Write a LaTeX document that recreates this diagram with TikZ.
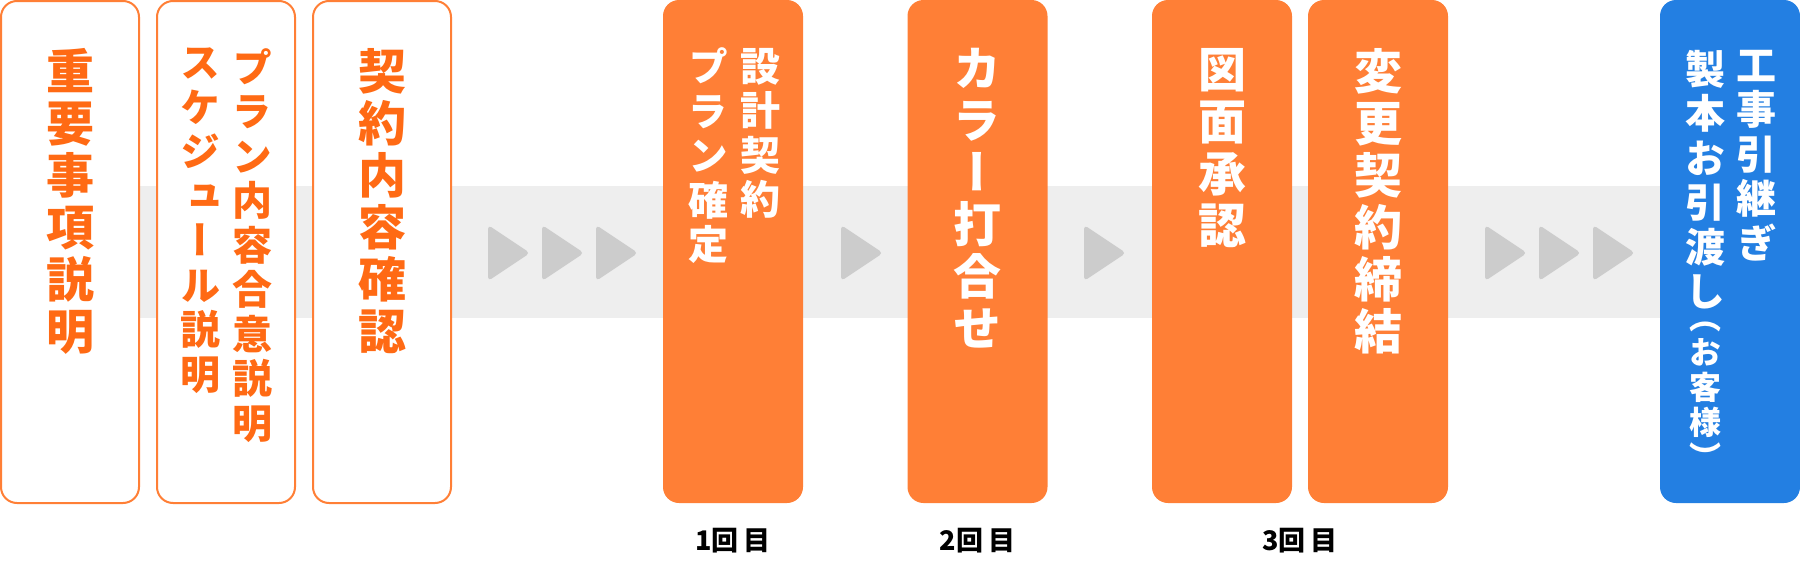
\documentclass[tikz,border=0pt]{standalone}
\usepackage{fontspec}
\usetikzlibrary{positioning}
\newfontfamily\jpfont[RawFeature=+vert]{Noto Sans CJK JP}
\definecolor{flowor}{HTML}{FF7F36}
\definecolor{flowtxt}{HTML}{FF6A14}
\definecolor{flowblue}{HTML}{237FE2}
\definecolor{bandgray}{HTML}{EEEEEE}
\definecolor{trigray}{HTML}{CCCCCC}

\begin{document}
\begin{tikzpicture}[x=1pt, y=-1pt,
    outbox/.style={draw=flowor, line width=2pt, fill=white, rounded corners=16pt,
        minimum width=138pt, minimum height=502pt, inner sep=0pt},
    solidbox/.style={fill=#1, rounded corners=16pt,
        minimum width=140pt, minimum height=503pt, inner sep=0pt},
    bigtxt/.style={font=\jpfont\bfseries\fontsize{48}{52}\selectfont, align=center,
        inner sep=0pt, execute at begin node={\rule{0pt}{0.88em}}},
    midtxt/.style={font=\jpfont\bfseries\fontsize{40}{44.5}\selectfont, align=center,
        inner sep=0pt, execute at begin node={\rule{0pt}{0.88em}}},
    smalltxt/.style={font=\jpfont\bfseries\fontsize{32}{35}\selectfont, align=center,
        inner sep=0pt, execute at begin node={\rule{0pt}{0.88em}}},
    roundlbl/.style={font=\jpfont\bfseries\fontsize{27}{30}\selectfont,
        inner sep=0pt, anchor=north},
    playtri/.style={fill=trigray, rounded corners=4pt}]
    \useasboundingbox (0,0) rectangle (1800,562);

    % band and play marks
    \fill[bandgray] (139,186) rectangle (1660,318);
    \foreach \x in {489,543,597,842,1085,1486,1540,1594}
        \fill[playtri] (\x-1,225) -- (\x+41,253) -- (\x-1,281) -- cycle;

    % steps
    \node[outbox] (imp) at (70,252) {};
    \node[outbox] (plan) at (226,252) {};
    \node[outbox] (chk) at (382,252) {};
    \node[solidbox=flowor] (dsn) at (733,251.5) {};
    \node[solidbox=flowor] (clr) at (977.5,251.5) {};
    \node[solidbox=flowor] (drw) at (1222,251.5) {};
    \node[solidbox=flowor] (chg) at (1378,251.5) {};
    \node[solidbox=flowblue] (hand) at (1730,251.5) {};

    \node[bigtxt, text=flowtxt, below=48pt of imp.north] (impT) {重\\要\\事\\項\\説\\明};
    \node[midtxt, text=flowtxt, below=48pt of plan.north, xshift=26pt] (planR) {プ\\ラ\\ン\\内\\容\\合\\意\\説\\明};
    \node[midtxt, text=flowtxt, below=48pt of plan.north, xshift=-26pt] (planL) {ス\\ケ\\ジ\\ュ\\ー\\ル\\説\\明};
    \node[bigtxt, text=flowtxt, below=48pt of chk.north] (chkT) {契\\約\\内\\容\\確\\認};
    \node[midtxt, text=white, below=48pt of dsn.north, xshift=27pt] (dsnR) {設\\計\\契\\約};
    \node[midtxt, text=white, below=48pt of dsn.north, xshift=-25pt] (dsnL) {プ\\ラ\\ン\\確\\定};
    \node[bigtxt, text=white, below=48pt of clr.north] (clrT) {カ\\ラ\\ー\\打\\合\\せ};
    \node[bigtxt, text=white, below=48pt of drw.north] (drwT) {図\\面\\承\\認};
    \node[bigtxt, text=white, below=48pt of chg.north] (chgT) {変\\更\\契\\約\\締\\結};
    \node[midtxt, text=white, below=50pt of hand.north, xshift=26pt] (handR) {工\\事\\引\\継\\ぎ};
    \node[midtxt, text=white, below=50pt of hand.north, xshift=-25pt] (handL) {製\\本\\お\\引\\渡\\し};
    \node[smalltxt, text=white, below=12pt of handL] (handS) {（\\お\\客\\様\\）};

    % rounds
    \node[roundlbl] (r1) at (733,528) {1回\hspace{5pt}目};
    \node[roundlbl] (r2) at (977.5,528) {2回\hspace{5pt}目};
    \node[roundlbl] (r3) at (1300,528) {3回\hspace{5pt}目};
\end{tikzpicture}
\end{document}
